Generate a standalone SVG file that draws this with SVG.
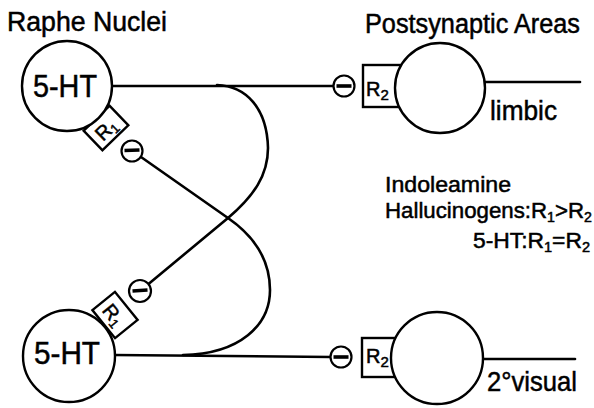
<svg xmlns="http://www.w3.org/2000/svg" width="594" height="408" viewBox="0 0 594 408">
<style>
.ln{fill:none;stroke:#000;stroke-width:2.6;stroke-linecap:round}
.cell{fill:#fff;stroke:#000;stroke-width:2.4}
.box{fill:#fff;stroke:#000;stroke-width:2.4}
.inh{fill:#fff;stroke:#000;stroke-width:2.2}
.bar{stroke:#000;stroke-width:3.6;stroke-linecap:butt}
text{font-family:"Liberation Sans","DejaVu Sans",sans-serif;fill:#000;stroke:#000;stroke-width:0.5}
.big{font-size:31px}
.ttl{font-size:27px}
.lbl{font-size:28px}
.rec{font-size:20px}
.sm{font-size:22px}
</style>
<rect width="594" height="408" fill="#fff"/>

<g id="title-left"><text class="ttl" x="7" y="31" textLength="160" lengthAdjust="spacingAndGlyphs">Raphe Nuclei</text></g>
<g id="title-right"><text class="ttl" x="365" y="33" textLength="215" lengthAdjust="spacingAndGlyphs">Postsynaptic Areas</text></g>

<g id="connectors">
  <line class="ln" x1="112" y1="86" x2="334" y2="86"/>
  <line class="ln" x1="114" y1="355" x2="331" y2="357"/>
  <line class="ln" x1="485" y1="82" x2="580" y2="82"/>
  <line class="ln" x1="483" y1="359" x2="575" y2="359"/>
  <path class="ln" d="M217,85 C246,86 267,108 268,148 C268,175 254,196 228,218 L148.5,284"/>
  <path class="ln" d="M141,157 L228,218 C254,236 270,260 270,290 C270,325 240,354 183,355"/>
</g>

<g id="r1-top" transform="translate(106,128) rotate(-44)">
  <rect class="box" x="-18" y="-13.5" width="36" height="27"/>
  <text class="rec" x="-12" y="8">R<tspan font-size="13" dy="3">1</tspan></text>
</g>
<g id="raphe-top">
  <circle class="cell" cx="67" cy="86" r="45"/>
  <text class="big" x="33" y="97" textLength="64" lengthAdjust="spacingAndGlyphs">5-HT</text>
</g>

<g id="r1-bottom" transform="translate(115,315) rotate(51)">
  <rect class="box" x="-18" y="-14.5" width="36" height="29"/>
  <text class="rec" x="-12" y="8">R<tspan font-size="13" dy="3">1</tspan></text>
</g>
<g id="raphe-bottom">
  <circle class="cell" cx="69" cy="356" r="46"/>
  <text class="big" x="34" y="364" textLength="66" lengthAdjust="spacingAndGlyphs">5-HT</text>
</g>

<g id="inh-top-left">
  <circle class="inh" cx="132" cy="151" r="10.5"/>
  <line class="bar" x1="124.5" y1="150.5" x2="139.5" y2="150"/>
</g>
<g id="inh-bottom-left">
  <circle class="inh" cx="140" cy="291" r="11"/>
  <line class="bar" x1="132.5" y1="291" x2="147.5" y2="290"/>
</g>
<g id="inh-top-right">
  <circle class="inh" cx="344" cy="86" r="10.5"/>
  <line class="bar" x1="336.5" y1="86" x2="351.5" y2="86"/>
</g>
<g id="inh-bottom-right">
  <circle class="inh" cx="341" cy="357" r="10.5"/>
  <line class="bar" x1="333.5" y1="357" x2="348.5" y2="357"/>
</g>

<g id="limbic">
  <rect class="box" x="363" y="65" width="40" height="42"/>
  <text class="rec" x="366" y="96" font-size="21">R<tspan font-size="15" dy="4">2</tspan></text>
  <circle class="cell" cx="440" cy="88" r="45"/>
  <text class="lbl" x="490" y="120" textLength="67" lengthAdjust="spacingAndGlyphs">limbic</text>
</g>

<g id="visual">
  <rect class="box" x="362" y="338" width="40" height="39"/>
  <text class="rec" x="366" y="363" font-size="21">R<tspan font-size="15" dy="4">2</tspan></text>
  <circle class="cell" cx="437" cy="358" r="46"/>
  <text class="lbl" x="487" y="391" font-size="30" textLength="90" lengthAdjust="spacingAndGlyphs">2°visual</text>
</g>

<g id="legend">
  <text class="sm" x="385" y="192" textLength="126" lengthAdjust="spacingAndGlyphs">Indoleamine</text>
  <text class="sm" x="385" y="218" textLength="207" lengthAdjust="spacingAndGlyphs">Hallucinogens:R<tspan font-size="14" dy="4">1</tspan><tspan dy="-4">&gt;R</tspan><tspan font-size="14" dy="4">2</tspan></text>
  <text class="sm" x="473" y="248" textLength="117" lengthAdjust="spacingAndGlyphs">5-HT:R<tspan font-size="14" dy="4">1</tspan><tspan dy="-4">=R</tspan><tspan font-size="14" dy="4">2</tspan></text>
</g>
</svg>
